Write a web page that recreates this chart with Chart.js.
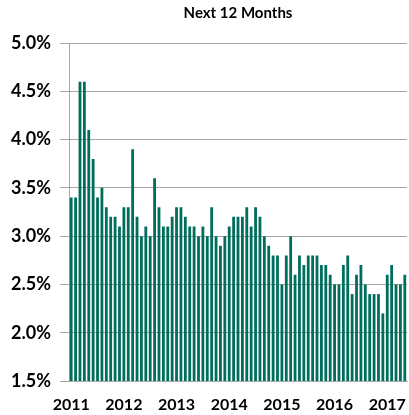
<!DOCTYPE html>
<html>
<head>
<meta charset="utf-8">
<script src="https://cdn.jsdelivr.net/npm/chart.js@4/dist/chart.umd.min.js"></script>
<style>
html,body{margin:0;padding:0;background:#fff;}
#wrap{width:409px;height:415px;position:relative;}
</style>
</head>
<body>
<div id="wrap"><canvas id="c" width="409" height="415"></canvas></div>
<script>
// Monthly series, Jan 2011 .. May 2017
const startYear = 2011;
const values = [
  3.4, 3.4, 4.6, 4.6, 4.1, 3.8, 3.4, 3.5, 3.3, 3.2, 3.2, 3.1,
  3.3, 3.3, 3.9, 3.2, 3.0, 3.1, 3.0, 3.6, 3.3, 3.1, 3.1, 3.2,
  3.3, 3.3, 3.2, 3.1, 3.1, 3.0, 3.1, 3.0, 3.3, 3.0, 2.9, 3.0,
  3.1, 3.2, 3.2, 3.2, 3.3, 3.1, 3.3, 3.2, 3.0, 2.9, 2.8, 2.8,
  2.5, 2.8, 3.0, 2.6, 2.8, 2.7, 2.8, 2.8, 2.8, 2.7, 2.7, 2.6,
  2.5, 2.5, 2.7, 2.8, 2.4, 2.6, 2.7, 2.5, 2.4, 2.4, 2.4, 2.2,
  2.6, 2.7, 2.5, 2.5, 2.6
];
const yearLabels = ['2011','2012','2013','2014','2015','2016','2017'];
const yTicks = [1.5, 2.0, 2.5, 3.0, 3.5, 4.0, 4.5, 5.0];

const categories = [];
for (let i = 0; i < values.length; i++) {
  const y = startYear + Math.floor(i / 12);
  const m = (i % 12) + 1;
  categories.push(y + '-' + (m < 10 ? '0' + m : m));
}

const teal = '#006E5C';
const gridGray = '#A6A6A6';
const fontFam = 'Lato, "Open Sans", sans-serif';

new Chart(document.getElementById('c'), {
  type: 'bar',
  data: {
    labels: categories,
    datasets: [{
      data: values,
      backgroundColor: teal,
      borderWidth: 0,
      barPercentage: 0.64,
      categoryPercentage: 1.0
    }]
  },
  options: {
    responsive: false,
    animation: false,
    devicePixelRatio: 1,
    layout: { padding: { left: 0, right: 2, top: 0, bottom: 0 } },
    plugins: {
      legend: { display: false },
      tooltip: { enabled: false },
      title: {
        display: true,
        text: 'Next 12 Months',
        fullSize: false,
        color: '#000',
        font: { family: fontFam, size: 15, weight: 'bold', lineHeight: 1.2 },
        padding: { top: 4, bottom: 21 }
      }
    },
    scales: {
      x: {
        type: 'category',
        offset: true,
        grid: { display: false, drawTicks: false },
        border: { display: true, color: gridGray, width: 1 },
        afterFit: function(scale) {
          scale.paddingLeft = 0;
          scale.paddingRight = 0;
          scale.height = 34;
        },
        ticks: {
          autoSkip: false,
          maxRotation: 0,
          minRotation: 0,
          padding: 14,
          color: '#000',
          font: { family: fontFam, size: 16, weight: 'bold', lineHeight: 1.2 },
          callback: function(val, idx) {
            if (idx % 12 === 0) return yearLabels[idx / 12];
            return '';
          }
        }
      },
      y: {
        min: 1.5,
        max: 5.0,
        afterBuildTicks: function(scale) {
          scale.ticks = yTicks.map(v => ({ value: v }));
        },
        afterFit: function(scale) {
          scale.width = 69;
          scale.paddingTop = 0;
          scale.paddingBottom = 0;
        },
        grid: { color: gridGray, lineWidth: 1, drawTicks: true, tickLength: 9, tickColor: gridGray },
        border: { display: true, color: gridGray, width: 1 },
        ticks: {
          padding: 9,
          color: '#000',
          font: { family: fontFam, size: 18, weight: 'bold' },
          callback: function(v) { return Number(v).toFixed(1) + '%'; }
        }
      }
    }
  }
});
</script>
</body>
</html>
